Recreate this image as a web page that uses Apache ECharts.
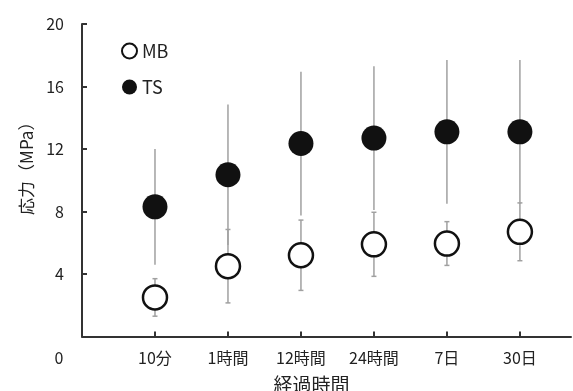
<!DOCTYPE html>
<html>
<head>
<meta charset="utf-8">
<script src="https://cdn.jsdelivr.net/npm/echarts@6/dist/echarts.min.js"></script>
<style>
  html, body { margin: 0; padding: 0; background: #fff; }
  #chart { width: 573px; height: 391px; }
</style>
</head>
<body>
<div id="chart"></div>
<script>
// Elapsed-time categories (x positions 1..6)
var categories = ['10分', '1時間', '12時間', '24時間', '7日', '30日'];
// Stress values (MPa): mean and standard deviation for each group
var mbMean = [2.5, 4.5, 5.2, 5.9, 5.95, 6.7];
var mbErr  = [1.2, 2.35, 2.25, 2.05, 1.4, 1.85];
var tsMean = [8.3, 10.35, 12.35, 12.7, 13.1, 13.1];
var tsErr  = [3.7, 4.5, 4.6, 4.6, 4.6, 4.6];
var yTicks = [0, 4, 8, 12, 16, 20];

var font = '"Noto Sans CJK JP", "Noto Sans", sans-serif';
var ink = '#222';

function points(means) {
  return means.map(function (m, i) { return [i + 1, m]; });
}
function bars(means, errs) {
  return means.map(function (m, i) { return [i + 1, m - errs[i], m + errs[i]]; });
}

// Vertical whisker from (mean - sd) to (mean + sd), optional short caps
function errorBarRenderer(cap) {
  return function (params, api) {
    var x = api.value(0);
    var lo = api.coord([x, api.value(1)]);
    var hi = api.coord([x, api.value(2)]);
    var style = { stroke: '#a0a0a0', lineWidth: 1.5 };
    var children = [
      { type: 'line', shape: { x1: lo[0], y1: lo[1], x2: hi[0], y2: hi[1] }, style: style }
    ];
    if (cap > 0) {
      children.push({ type: 'line', shape: { x1: hi[0] - cap, y1: hi[1], x2: hi[0] + cap, y2: hi[1] }, style: style });
      children.push({ type: 'line', shape: { x1: lo[0] - cap, y1: lo[1], x2: lo[0] + cap, y2: lo[1] }, style: style });
    }
    return { type: 'group', children: children };
  };
}

var chart = echarts.init(document.getElementById('chart'), null, { renderer: 'canvas' });
chart.setOption({
  backgroundColor: '#fff',
  animation: false,
  textStyle: { fontFamily: font, color: ink },
  grid: { left: 82, top: 24, right: 2, bottom: 54.5, outerBoundsMode: 'none' },
  legend: {
    data: ['MB', 'TS'],
    orient: 'vertical',
    left: 116,
    top: 36,
    itemWidth: 15,
    itemHeight: 15,
    itemGap: 16,
    textStyle: { fontFamily: font, fontSize: 18, color: ink, lineHeight: 20 }
  },
  xAxis: {
    type: 'value',
    min: 0,
    max: 6.7,
    interval: 1,
    splitLine: { show: false },
    axisLine: { show: true, lineStyle: { color: '#333', width: 2 } },
    axisTick: { show: true, inside: true, length: 5, customValues: [1, 2, 3, 4, 5, 6],
                lineStyle: { color: '#333', width: 2 } },
    axisLabel: {
      customValues: [0, 1, 2, 3, 4, 5, 6],
      margin: 13,
      fontSize: 16,
      color: ink,
      fontFamily: font,
      formatter: function (v) {
        if (v === 0) return '{z|0}';
        return categories[Math.round(v) - 1] || '';
      },
      rich: { z: { fontSize: 16, fontFamily: font, color: ink, padding: [0, 46, 0, 0] } }
    },
    name: '経過時間',
    nameLocation: 'middle',
    nameGap: 39,
    nameTextStyle: { fontSize: 19, color: ink, fontFamily: font, padding: [0, 30, 0, 0] }
  },
  yAxis: {
    type: 'value',
    min: yTicks[0],
    max: yTicks[yTicks.length - 1],
    interval: 4,
    splitLine: { show: false },
    axisLine: { show: true, lineStyle: { color: '#333', width: 2 } },
    axisTick: { show: true, inside: true, length: 5, lineStyle: { color: '#333', width: 2 } },
    axisLabel: {
      margin: 18,
      fontSize: 16,
      color: ink,
      fontFamily: font,
      formatter: function (v) { return v === 0 ? '' : String(v); }
    },
    name: '応力（MPa）',
    nameLocation: 'middle',
    nameGap: 47,
    nameTextStyle: { fontSize: 17, color: ink, fontFamily: font, padding: [0, 0, 0, 32] }
  },
  series: [
    {
      name: 'TS-err',
      type: 'custom',
      renderItem: errorBarRenderer(0),
      data: bars(tsMean, tsErr),
      encode: { x: 0, y: [1, 2] },
      z: 1,
      silent: true
    },
    {
      name: 'MB-err',
      type: 'custom',
      renderItem: errorBarRenderer(2.5),
      data: bars(mbMean, mbErr),
      encode: { x: 0, y: [1, 2] },
      z: 1,
      silent: true
    },
    {
      name: 'MB',
      type: 'scatter',
      symbol: 'circle',
      symbolSize: 24,
      data: points(mbMean),
      itemStyle: { color: '#fff', borderColor: '#111', borderWidth: 2.5, opacity: 1 },
      z: 3
    },
    {
      name: 'TS',
      type: 'scatter',
      symbol: 'circle',
      symbolSize: 25,
      data: points(tsMean),
      itemStyle: { color: '#111', opacity: 1 },
      z: 3
    }
  ]
});
</script>
</body>
</html>
